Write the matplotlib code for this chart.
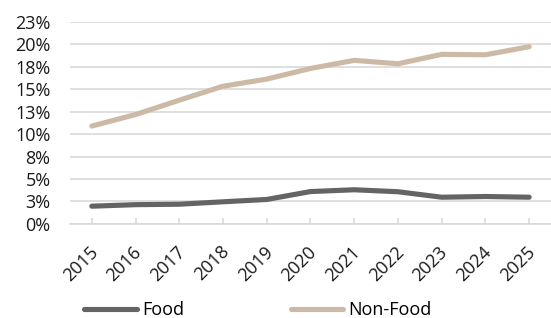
import matplotlib.pyplot as plt
import matplotlib.transforms as mtransforms
from matplotlib.ticker import FuncFormatter

plt.rcParams['font.family'] = ['Open Sans', 'DejaVu Sans']

years = ['2015', '2016', '2017', '2018', '2019', '2020', '2021', '2022', '2023', '2024', '2025']
food = [0.0197, 0.0214, 0.0219, 0.0246, 0.0272, 0.0360, 0.0380, 0.0358, 0.0297, 0.0305, 0.0297]
non_food = [0.109, 0.1218, 0.1378, 0.1534, 0.1613, 0.1732, 0.1822, 0.1784, 0.1889, 0.1884, 0.1974]
yticks = [0, 0.025, 0.05, 0.075, 0.10, 0.125, 0.15, 0.175, 0.20, 0.225]

fig = plt.figure(figsize=(5.51, 3.18), dpi=100)
ax = fig.add_axes([0.127, 0.296, 0.873, 0.635])

x = list(range(len(years)))
ax.plot(x, food, color='#646464', lw=3.7, solid_capstyle='round', label='Food', zorder=3)
ax.plot(x, non_food, color='#cdbaa6', lw=3.7, solid_capstyle='round', label='Non-Food', zorder=3)

ax.set_xlim(-0.5, 10.5)
ax.set_ylim(0, 0.225)
ax.set_yticks(yticks)
# excel style rounding: 2.5 -> 3
ax.yaxis.set_major_formatter(FuncFormatter(lambda v, p: '%d%%' % int(v * 100 + 0.5 + 1e-9)))
ax.grid(axis='y', color='#d9d9d9', lw=1.2)
ax.set_axisbelow(True)

for s in ['top', 'right', 'left']:
    ax.spines[s].set_visible(False)
ax.spines['bottom'].set_color('#d9d9d9')
ax.spines['bottom'].set_linewidth(1.2)

ax.set_xticks(x)
ax.set_xticklabels(years, rotation=45, ha='right', rotation_mode='anchor')
ax.tick_params(axis='x', direction='in', length=4, color='#d9d9d9', width=1.2, pad=13.5,
               labelsize=13, labelcolor='#1a1a1a')
ax.tick_params(axis='y', length=0, pad=14, labelsize=13, labelcolor='#1a1a1a')

# nudge year labels a bit to the left
shift = mtransforms.ScaledTranslation(-3 / 100, 0, fig.dpi_scale_trans)
for lab in ax.get_xticklabels():
    lab.set_transform(lab.get_transform() + shift)

fig.legend(loc='center', bbox_to_anchor=(258 / 551, 1 - 310 / 318), ncol=2, frameon=False,
           fontsize=13, handlelength=2.9, handletextpad=0.3, columnspacing=5.9)

fig.savefig('out.png', dpi=100)
